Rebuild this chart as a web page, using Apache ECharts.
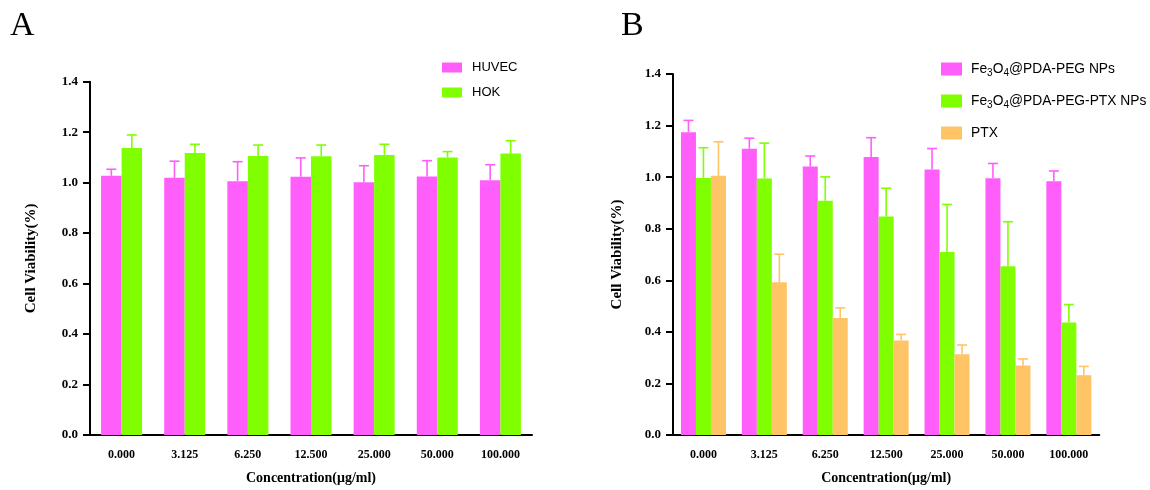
<!DOCTYPE html>
<html>
<head>
<meta charset="utf-8">
<script src="https://cdn.jsdelivr.net/npm/echarts@6/dist/echarts.min.js"></script>
<style>
html,body{margin:0;padding:0;background:#fff;}
#chart{width:1150px;height:490px;}
</style>
</head>
<body>
<div id="chart"></div>
<script>
// ---- data ----
const categories = ['0.000','3.125','6.250','12.500','25.000','50.000','100.000'];
const yTicks = [0, 0.2, 0.4, 0.6, 0.8, 1.0, 1.2, 1.4];

// Panel A
const namesA = ['HUVEC', 'HOK'];
const huvec    = [1.027, 1.019, 1.006, 1.023, 1.002, 1.024, 1.009];
const huvecErr = [0.026, 0.066, 0.077, 0.075, 0.065, 0.063, 0.062];
const hok      = [1.137, 1.117, 1.106, 1.105, 1.110, 1.100, 1.115];
const hokErr   = [0.052, 0.035, 0.043, 0.044, 0.042, 0.023, 0.051];

// Panel B
const namesB = ['Fe3O4@PDA-PEG NPs', 'Fe3O4@PDA-PEG-PTX NPs', 'PTX'];
const peg      = [1.174, 1.110, 1.041, 1.078, 1.030, 0.996, 0.984];
const pegErr   = [0.046, 0.041, 0.041, 0.075, 0.081, 0.057, 0.040];
const pegPtx   = [0.997, 0.995, 0.908, 0.847, 0.710, 0.654, 0.436];
const pegPtxErr= [0.117, 0.137, 0.093, 0.110, 0.184, 0.173, 0.070];
const ptx      = [1.005, 0.592, 0.454, 0.366, 0.313, 0.270, 0.232];
const ptxErr   = [0.132, 0.109, 0.039, 0.024, 0.036, 0.025, 0.034];

const PINK = '#FF5EFB', GREEN = '#7FFF00', ORANGE = '#FFC466';
const serif = 'Liberation Serif';
const sans = 'Liberation Sans';

function xAxisFor(gi) {
  return {
    type: 'category', gridIndex: gi, data: categories,
    axisLine: {lineStyle: {color: '#000', width: 2}},
    axisTick: {alignWithLabel: true, length: 8, lineStyle: {color: '#000', width: 2}},
    axisLabel: {color: '#000', fontFamily: serif, fontWeight: 'bold', fontSize: 12, margin: 14},
    name: 'Concentration(\u03bcg/ml)', nameLocation: 'middle', nameGap: 36,
    nameTextStyle: {color: '#000', fontFamily: serif, fontWeight: 'bold', fontSize: 14}
  };
}
function yAxisFor(gi, gap) {
  return {
    type: 'value', gridIndex: gi, min: 0, max: 1.4, interval: 0.2,
    splitLine: {show: false},
    axisLine: {show: true, lineStyle: {color: '#000', width: 2}},
    axisTick: {show: true, length: 7, lineStyle: {color: '#000', width: 2}},
    axisLabel: {color: '#000', fontFamily: serif, fontWeight: 'bold', fontSize: 13, margin: 12,
      formatter: v => (yTicks.some(t => Math.abs(t - v) < 1e-9) ? v.toFixed(1) : '')},
    name: 'Cell Viability(%)', nameLocation: 'middle', nameGap: gap,
    nameTextStyle: {color: '#000', fontFamily: serif, fontWeight: 'bold', fontSize: 15}
  };
}

function barSeries(name, gi, vals, color, bw) {
  return {name: name, type: 'bar', xAxisIndex: gi, yAxisIndex: gi, data: vals,
    barWidth: bw, barGap: '0%', itemStyle: {color: color}};
}
function errSeries(gi, vals, errs, color, k, n, bw) {
  const offset = (k - (n - 1) / 2) * bw;
  return {
    type: 'custom', xAxisIndex: gi, yAxisIndex: gi, z: 3,
    data: vals.map((v, i) => [i, v, v + errs[i]]),
    encode: {x: 0, y: [1, 2]},
    renderItem: function (params, api) {
      const p0 = api.coord([api.value(0), api.value(1)]);
      const p1 = api.coord([api.value(0), api.value(2)]);
      const x = p0[0] + offset, cap = 10;
      const st = {stroke: color, lineWidth: 1.6};
      return {type: 'group', children: [
        {type: 'line', shape: {x1: x, y1: p0[1], x2: x, y2: p1[1]}, style: st},
        {type: 'line', shape: {x1: x - cap / 2, y1: p1[1], x2: x + cap / 2, y2: p1[1]}, style: st}
      ]};
    }
  };
}

const bwA = 20.5, bwB = 15;
const chart = echarts.init(document.getElementById('chart'), null, {renderer: 'canvas'});
chart.setOption({
  animation: false,
  backgroundColor: '#fff',
  title: [
    {text: 'A', left: 5, top: 4, textStyle: {fontFamily: serif, fontWeight: 'normal', fontSize: 34, color: '#000'}},
    {text: 'B', left: 616, top: 4, textStyle: {fontFamily: serif, fontWeight: 'normal', fontSize: 34, color: '#000'}}
  ],
  legend: [
    {data: namesA, orient: 'vertical', left: 437, top: 56, itemWidth: 20, itemHeight: 10, itemGap: 12,
      icon: 'rect', textStyle: {fontFamily: sans, fontSize: 13, color: '#000', padding: [0, 0, 0, 5]}},
    {data: namesB, orient: 'vertical', left: 936, top: 57, itemWidth: 21, itemHeight: 13, itemGap: 16,
      icon: 'rect',
      formatter: function (name) {
        return name.replace('Fe3O4', 'Fe{sub|3}O{sub|4}');
      },
      textStyle: {fontFamily: sans, fontSize: 13.8, color: '#000', padding: [0, 0, 0, 4],
        rich: {sub: {fontFamily: sans, fontSize: 10, color: '#000', padding: [8, 0, 0, 0]}}}}
  ],
  grid: [
    {left: 90, top: 81.7, right: 618, bottom: 51},
    {left: 673, top: 74, right: 50.7, bottom: 52.5}
  ],
  xAxis: [xAxisFor(0), xAxisFor(1)],
  yAxis: [yAxisFor(0, 51), yAxisFor(1, 48)],
  series: [
    barSeries(namesA[0], 0, huvec, PINK, bwA),
    barSeries(namesA[1], 0, hok, GREEN, bwA),
    errSeries(0, huvec, huvecErr, PINK, 0, 2, bwA),
    errSeries(0, hok, hokErr, GREEN, 1, 2, bwA),
    barSeries(namesB[0], 1, peg, PINK, bwB),
    barSeries(namesB[1], 1, pegPtx, GREEN, bwB),
    barSeries(namesB[2], 1, ptx, ORANGE, bwB),
    errSeries(1, peg, pegErr, PINK, 0, 3, bwB),
    errSeries(1, pegPtx, pegPtxErr, GREEN, 1, 3, bwB),
    errSeries(1, ptx, ptxErr, ORANGE, 2, 3, bwB)
  ]
});
</script>
</body>
</html>
